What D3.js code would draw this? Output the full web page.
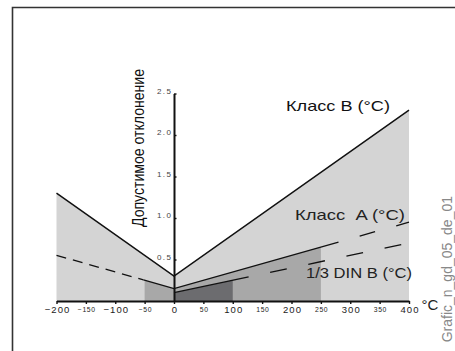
<!DOCTYPE html>
<html><head><meta charset="utf-8">
<script src="https://cdn.jsdelivr.net/npm/d3@7"></script>
<style>body{margin:0;background:#fff}svg{display:block}</style>
</head><body>
<svg id="c" width="455" height="351"></svg>
<script>
// ---- data ----
const xTickValues = [-200,-150,-100,-50,0,50,100,150,200,250,300,350,400];
const xMajorTicks = [-200,-100,0,100,200,300,400];
const yTickValues = [0.5,1.0,1.5,2.0,2.5];
const classB = [[-200,1.3],[0,0.3],[400,2.3]];
const classADashLeft = [[-200,0.55],[-52,0.254]];
const classASolid = [[-52,0.254],[0,0.15],[280,0.71]];
const classADashRight = [[280,0.71],[400,0.95]];
const dinBSolid = [[0,0.1],[127,0.29]];
const dinBDash = [[127,0.29],[400,0.70]];
const lightBand = [[-200,1.3],[0,0.3],[400,2.3]];
const mediumBand = [[-50,0.25],[0,0.15],[250,0.65]];
const darkBand = [[0,0.1],[100,0.25]];
const yTitle = "Допустимое отклонение";
const seriesLabels = ["Класс B (°C)", "Класс  A (°C)", "1/3 DIN B (°C)"];
const unitLabel = "°C";
const sideNote = "Grafic_n_gd_05_de_01";

// ---- drawing ----
const svg = d3.select("#c");
const x = d3.scaleLinear().domain([-200,400]).range([56.5,409]);
const y = d3.scaleLinear().domain([0,2.5]).range([301,93.5]);
const area = d3.area().x(d=>x(d[0])).y0(y(0)).y1(d=>y(d[1]));
const line = d3.line().x(d=>x(d[0])).y(d=>y(d[1]));

// frame
svg.append("path").attr("d","M12.5,351V7.5H455").attr("fill","none").attr("stroke","#333").attr("stroke-width",1.6);

svg.append("path").datum(lightBand).attr("d",area).attr("fill","#d4d4d4");
svg.append("path").datum(mediumBand).attr("d",area).attr("fill","#a8a8a8");
svg.append("path").datum(darkBand).attr("d",area).attr("fill","#6c6c6f");

svg.append("path").datum(classB).attr("d",line).attr("fill","none").attr("stroke","#111").attr("stroke-width",1.5);
svg.append("path").datum(classASolid).attr("d",line).attr("fill","none").attr("stroke","#111").attr("stroke-width",1.3);
svg.append("path").datum(classADashLeft).attr("d",line).attr("fill","none").attr("stroke","#111").attr("stroke-width",1.3).attr("stroke-dasharray","10,7");
svg.append("path").datum(classADashRight).attr("d",line).attr("fill","none").attr("stroke","#111").attr("stroke-width",1.3).attr("stroke-dasharray","16,22").attr("stroke-dashoffset",16);
svg.append("path").datum(dinBSolid).attr("d",line).attr("fill","none").attr("stroke","#111").attr("stroke-width",1.3);
svg.append("path").datum(dinBDash).attr("d",line).attr("fill","none").attr("stroke","#111").attr("stroke-width",1.3).attr("stroke-dasharray","17,22").attr("stroke-dashoffset",17);

const F = "'Liberation Sans', Arial, Helvetica, sans-serif";

// x axis
const xa = svg.append("g").attr("transform",`translate(0,${y(0)})`)
  .call(d3.axisBottom(x).tickValues(xTickValues).tickSize(3).tickSizeOuter(0).tickPadding(3).tickFormat(d3.format("d")));
xa.select(".domain").attr("stroke","#111").attr("stroke-width",2);
xa.selectAll(".tick line").attr("stroke","#111").attr("stroke-width",1.4);
xa.selectAll(".tick text")
  .attr("font-family",F)
  .attr("fill","#222")
  .attr("dy",null)
  .attr("y",d=>xMajorTicks.includes(d)?12:11)
  .attr("font-size",d=>xMajorTicks.includes(d)?9.5:6.8)
  .attr("letter-spacing",d=>xMajorTicks.includes(d)?1:0.6)
  .attr("dx",d=>xMajorTicks.includes(d)?0.5:0.3);

// y axis
const ya = svg.append("g").attr("transform",`translate(${x(0)},0)`)
  .call(d3.axisLeft(y).tickValues(yTickValues).tickSize(-2.5).tickSizeOuter(0).tickPadding(3).tickFormat(d3.format(".1f")));
ya.select(".domain").attr("stroke","#111").attr("stroke-width",2);
ya.selectAll(".tick line").attr("stroke","#111").attr("stroke-width",1.4);
ya.selectAll(".tick text")
  .attr("font-family",F)
  .attr("fill","#444").attr("font-size",8).attr("letter-spacing",1.5).attr("dx",1.5).attr("dy","-0.5");

// titles and labels
svg.append("text").attr("transform","translate(144,148) rotate(-90)").attr("text-anchor","middle")
  .attr("font-family","'Liberation Sans Narrow','Arial Narrow','Liberation Sans',sans-serif").attr("font-size",16)
  .attr("textLength",158).attr("lengthAdjust","spacingAndGlyphs").attr("fill","#111").text(yTitle);

svg.append("text").attr("x",286).attr("y",111).attr("font-family",F).attr("font-size",15).attr("fill","#111")
  .attr("textLength",104).attr("lengthAdjust","spacingAndGlyphs").text(seriesLabels[0]);
svg.append("text").attr("x",295).attr("y",220).attr("font-family",F).attr("font-size",15).attr("fill","#222").style("white-space","pre")
  .attr("textLength",110).attr("lengthAdjust","spacingAndGlyphs").text(seriesLabels[1]);
svg.append("text").attr("x",306).attr("y",278).attr("font-family",F).attr("font-size",15).attr("fill","#222")
  .attr("textLength",106).attr("lengthAdjust","spacingAndGlyphs").text(seriesLabels[2]);
svg.append("text").attr("x",421.5).attr("y",310).attr("font-family",F).attr("font-size",15).attr("fill","#222").text(unitLabel);
svg.append("text").attr("transform","translate(452,196) rotate(-90)").attr("text-anchor","end")
  .attr("font-family",F).attr("font-size",14).attr("fill","#888").text(sideNote);
</script>
</body></html>
